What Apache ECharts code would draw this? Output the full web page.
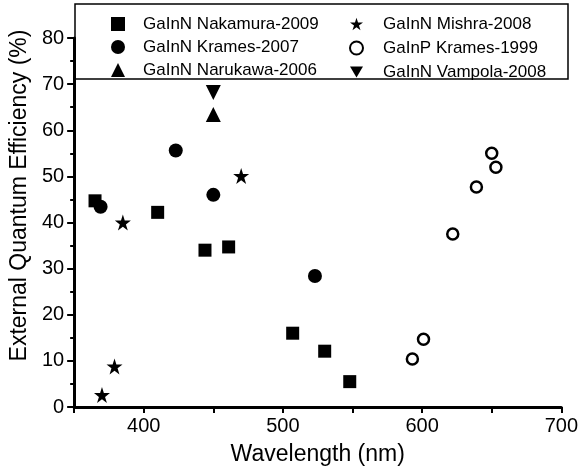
<!DOCTYPE html>
<html>
<head>
<meta charset="utf-8">
<script src="https://cdn.jsdelivr.net/npm/echarts@6/dist/echarts.min.js"></script>
<style>
  html, body { margin: 0; padding: 0; background: #fff; }
  #chart { width: 581px; height: 471px; }
</style>
</head>
<body>
<div id="chart"></div>
<script>
// data: [wavelength nm, EQE %]
const nakamura2009 = [[365, 44.7], [410, 42.2], [444, 34.0], [461, 34.7], [507, 16.0], [530, 12.1], [548, 5.5]];
const krames2007 = [[369, 43.4], [423, 55.6], [450, 46.0], [523, 28.4]];
const narukawa2006 = [[450, 63.4]];
const mishra2008 = [[370, 2.6], [379, 8.8], [385, 40.0], [470, 50.1]];
const krames1999 = [[593, 10.4], [601, 14.7], [622, 37.5], [639, 47.7], [650, 55.0], [653, 52.0]];
const vampola2008 = [[450, 68.2]];

const xTicks = [400, 500, 600, 700];

const STAR = 'path://M50,0 L61.2,34.5 L97.6,34.5 L68.2,55.9 L79.4,90.5 L50,69.1 L20.6,90.5 L31.8,55.9 L2.4,34.5 L38.8,34.5 Z';
const DOWN = 'path://M0,0 L100,0 L50,86 Z';
const FONT = '"Liberation Sans", Arial, sans-serif';

const chart = echarts.init(document.getElementById('chart'));

const filled = { color: '#000', opacity: 1 };
const series = [
    { name: 'GaInN Nakamura-2009', data: nakamura2009, symbol: 'rect', symbolSize: 13, itemStyle: filled },
    { name: 'GaInN Krames-2007', data: krames2007, symbol: 'circle', symbolSize: 14, itemStyle: filled },
    { name: 'GaInN Narukawa-2006', data: narukawa2006, symbol: 'triangle', symbolSize: 15, itemStyle: filled },
    { name: 'GaInN Mishra-2008', data: mishra2008, symbol: STAR, symbolSize: 16, itemStyle: filled },
    { name: 'GaInP Krames-1999', data: krames1999, symbol: 'circle', symbolSize: 11,
      itemStyle: { color: '#fff', borderColor: '#000', borderWidth: 2.5, opacity: 1 } },
    { name: 'GaInN Vampola-2008', data: vampola2008, symbol: DOWN, symbolSize: 15, itemStyle: filled }
].map(s => Object.assign({ type: 'scatter', z: 3 }, s));

const legendText = { fontFamily: FONT, fontSize: 17, color: '#000', lineHeight: 20 };

const option = {
    animation: false,
    backgroundColor: '#fff',
    grid: { left: 68, right: 17, top: 38, bottom: 64 },
    graphic: [{
        type: 'rect',
        shape: { x: 75, y: 4, width: 493, height: 75 },
        style: { fill: 'none', stroke: '#000', lineWidth: 1.5 },
        z: 10
    }],
    legend: [
        {
            orient: 'vertical', left: 106, top: 9, itemWidth: 14, itemHeight: 14, itemGap: 3,
            data: ['GaInN Nakamura-2009', 'GaInN Krames-2007', 'GaInN Narukawa-2006'],
            textStyle: Object.assign({ padding: [0, 0, 0, 13] }, legendText)
        },
        {
            orient: 'vertical', left: 344, top: 9, itemWidth: 13, itemHeight: 13, itemGap: 4,
            data: ['GaInN Mishra-2008', 'GaInP Krames-1999', 'GaInN Vampola-2008'],
            textStyle: Object.assign({ padding: [0, 0, 0, 15] }, legendText)
        }
    ],
    xAxis: {
        type: 'value', min: 350, max: 700, interval: 50,
        name: 'Wavelength (nm)', nameLocation: 'middle', nameGap: 36,
        nameTextStyle: { fontFamily: FONT, fontSize: 23, color: '#000' },
        axisLine: { onZero: false, lineStyle: { color: '#000', width: 3 } },
        axisTick: { show: true, length: 6, lineStyle: { color: '#000', width: 2 } },
        axisLabel: {
            margin: 9, fontFamily: FONT, fontSize: 20, color: '#000',
            formatter: v => (xTicks.includes(v) ? String(v) : '')
        },
        splitLine: { show: false }
    },
    yAxis: {
        type: 'value', min: 0, max: 80, interval: 10,
        name: 'External Quantum Efficiency (%)', nameLocation: 'middle', nameGap: 38,
        nameTextStyle: { fontFamily: FONT, fontSize: 23, color: '#000', padding: [0, 0, 0, 54] },
        axisLine: { show: true, onZero: false, lineStyle: { color: '#000', width: 3 } },
        axisTick: { show: true, length: 7, lineStyle: { color: '#000', width: 2 } },
        minorTick: { show: true, splitNumber: 2, length: 4, lineStyle: { color: '#000', width: 2 } },
        axisLabel: { margin: 10, fontFamily: FONT, fontSize: 20, color: '#000' },
        splitLine: { show: false }
    },
    series: series
};

chart.setOption(option);
</script>
</body>
</html>
